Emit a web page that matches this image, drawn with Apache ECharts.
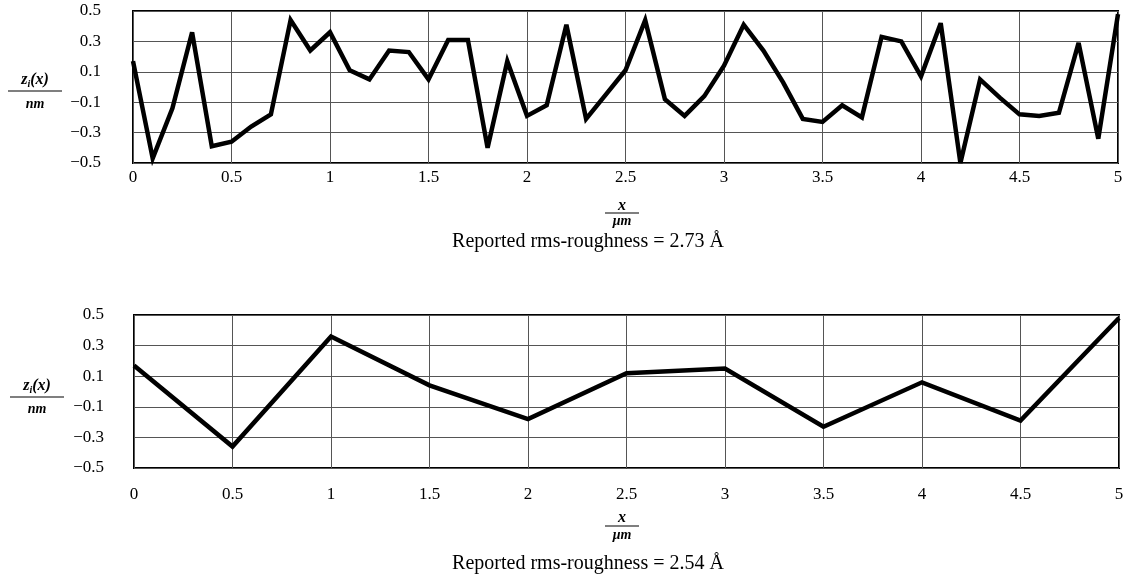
<!DOCTYPE html>
<html>
<head>
<meta charset="utf-8">
<script src="https://cdn.jsdelivr.net/npm/echarts@6/dist/echarts.min.js"></script>
<style>
  html, body { margin: 0; padding: 0; background: #fff; }
  #chart { width: 1129px; height: 582px; }
</style>
</head>
<body>
<div id="chart"></div>
<script>
// ---- data ----
const xTop = [0, 0.1, 0.2, 0.3, 0.4, 0.5, 0.6, 0.7, 0.8, 0.9,
  1.0, 1.1, 1.2, 1.3, 1.4, 1.5, 1.6, 1.7, 1.8, 1.9,
  2.0, 2.1, 2.2, 2.3, 2.4, 2.5, 2.6, 2.7, 2.8, 2.9,
  3.0, 3.1, 3.2, 3.3, 3.4, 3.5, 3.6, 3.7, 3.8, 3.9,
  4.0, 4.1, 4.2, 4.3, 4.4, 4.5, 4.6, 4.7, 4.8, 4.9, 5.0];
const zTop = [0.17, -0.47, -0.14, 0.36, -0.39, -0.36, -0.26, -0.18, 0.44, 0.24,
  0.36, 0.11, 0.05, 0.24, 0.23, 0.05, 0.31, 0.31, -0.40, 0.17,
  -0.19, -0.12, 0.41, -0.21, -0.05, 0.11, 0.44, -0.08, -0.19, -0.06,
  0.14, 0.41, 0.24, 0.03, -0.21, -0.23, -0.12, -0.20, 0.33, 0.30,
  0.07, 0.42, -0.50, 0.05, -0.07, -0.18, -0.19, -0.17, 0.29, -0.34, 0.48];
const xBottom = [0, 0.5, 1.0, 1.5, 2.0, 2.5, 3.0, 3.5, 4.0, 4.5, 5.0];
const zBottom = [0.17, -0.36, 0.36, 0.04, -0.18, 0.12, 0.15, -0.23, 0.06, -0.19, 0.48];
const yTicks = [-0.5, -0.3, -0.1, 0.1, 0.3, 0.5];
const xTicks = [0, 0.5, 1, 1.5, 2, 2.5, 3, 3.5, 4, 4.5, 5];
const captionTop = 'Reported rms-roughness = 2.73 Å';
const captionBottom = 'Reported rms-roughness = 2.54 Å';

// ---- chart ----
const SERIF = '"Liberation Serif", "DejaVu Serif", serif';
const chart = echarts.init(document.getElementById('chart'));

function fmtNum(v) {
  const r = Math.round(v * 10) / 10;
  let s = Math.abs(r) % 1 === 0 ? String(Math.abs(r)) : Math.abs(r).toFixed(1);
  return (r < 0 ? '\u2212' : '') + s;
}

function makeX(gridIndex, margin) {
  return {
    type: 'value', gridIndex, min: xTicks[0], max: xTicks[xTicks.length - 1], interval: 0.5,
    axisLine: { show: false }, axisTick: { show: false },
    axisLabel: { color: '#000', fontFamily: SERIF, fontSize: 17, margin: margin, formatter: fmtNum },
    splitLine: { show: true, lineStyle: { color: '#555', width: 1 } }
  };
}
function makeY(gridIndex, margin) {
  return {
    type: 'value', gridIndex, min: yTicks[0], max: yTicks[yTicks.length - 1], interval: 0.2,
    axisLine: { show: false }, axisTick: { show: false },
    axisLabel: { color: '#000', fontFamily: SERIF, fontSize: 17, margin: margin, formatter: fmtNum },
    splitLine: { show: true, lineStyle: { color: '#555', width: 1 } }
  };
}

function fraction(cx, yTopText, lineY, yBotText, topRich, botText, halfW) {
  return [
    { type: 'text', x: cx, y: yTopText,
      style: { text: topRich, align: 'center', verticalAlign: 'middle',
        rich: {
          a: { fontFamily: SERIF, fontSize: 16, fontStyle: 'italic', fontWeight: 'bold', fill: '#000' },
          s: { fontFamily: SERIF, fontSize: 10, fontStyle: 'italic', fontWeight: 'bold', fill: '#000', padding: [8, 0, 0, 0] }
        } } },
    { type: 'line', shape: { x1: cx - halfW, y1: lineY, x2: cx + halfW, y2: lineY },
      style: { stroke: '#000', lineWidth: 1.2 } },
    { type: 'text', x: cx, y: yBotText,
      style: { text: botText, align: 'center', verticalAlign: 'middle',
        font: 'italic bold 14px ' + SERIF, fill: '#000' } }
  ];
}

function caption(cx, cy, txt) {
  return { type: 'text', x: cx, y: cy,
    style: { text: txt, align: 'center', verticalAlign: 'middle',
      font: '20px ' + SERIF, fill: '#000' } };
}

const graphics = [].concat(
  fraction(35, 80, 91, 104, '{a|z}{s|i}{a|(x)}', 'nm', 27),
  fraction(37, 386, 397, 409, '{a|z}{s|i}{a|(x)}', 'nm', 27),
  fraction(622, 206, 213, 221, '{a|x}', 'μm', 17),
  fraction(622, 518, 526, 535, '{a|x}', 'μm', 17),
  [caption(588, 242, captionTop), caption(588, 564, captionBottom)]
);

chart.setOption({
  backgroundColor: '#fff',
  animation: false,
  grid: [
    { left: 133, right: 11, top: 11, height: 152, show: true, borderColor: '#000', borderWidth: 2, backgroundColor: 'transparent' },
    { left: 134, right: 10, top: 315, height: 153, show: true, borderColor: '#000', borderWidth: 2, backgroundColor: 'transparent' }
  ],
  xAxis: [makeX(0, 6), makeX(1, 18)],
  yAxis: [makeY(0, 32), makeY(1, 30)],
  series: [
    { type: 'line', xAxisIndex: 0, yAxisIndex: 0, data: xTop.map((x, i) => [x, zTop[i]]),
      showSymbol: false, clip: false, lineStyle: { color: '#000', width: 4.5, join: 'miter', miterLimit: 4 } },
    { type: 'line', xAxisIndex: 1, yAxisIndex: 1, data: xBottom.map((x, i) => [x, zBottom[i]]),
      showSymbol: false, clip: false, lineStyle: { color: '#000', width: 4.5, join: 'miter', miterLimit: 4 } }
  ],
  graphic: graphics
});
</script>
</body>
</html>
